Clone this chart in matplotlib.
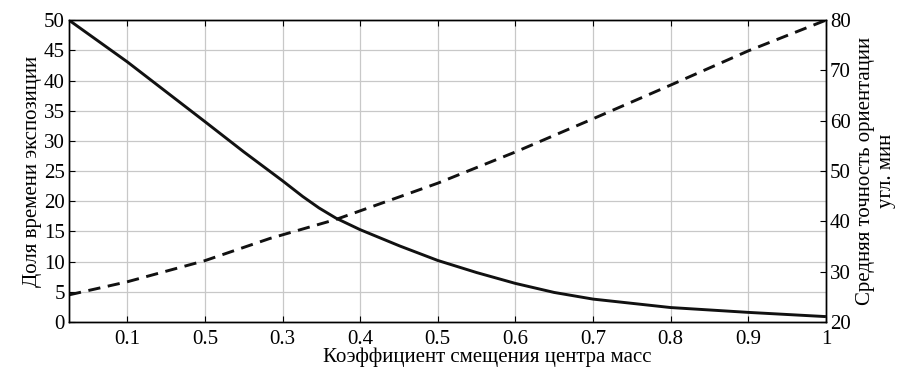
import matplotlib
matplotlib.use("Agg")
import matplotlib.pyplot as plt

# Data
x_solid = [0.025, 0.1, 0.2, 0.25, 0.3, 0.326, 0.347, 0.369, 0.4, 0.451, 0.5, 0.55, 0.6, 0.65, 0.7, 0.8, 0.9, 1.0]
y_solid = [50.0, 43.1, 33.2, 28.2, 23.4, 20.8, 18.9, 17.2, 15.3, 12.6, 10.2, 8.2, 6.4, 4.9, 3.8, 2.4, 1.6, 0.9]

x_dash = [0.025, 0.1, 0.2, 0.2835, 0.369, 0.451, 0.5, 0.6, 0.7, 0.8, 0.9, 1.0]
y_dash = [25.4, 28.0, 32.2, 36.6, 40.4, 44.9, 47.6, 53.8, 60.4, 67.1, 73.9, 80.0]

x_ticks = [0.1, 0.2, 0.3, 0.4, 0.5, 0.6, 0.7, 0.8, 0.9, 1.0]
x_tick_labels = ["0.1", "0.5", "0.3", "0.4", "0.5", "0.6", "0.7", "0.8", "0.9", "1"]
left_ticks = list(range(0, 51, 5))
right_ticks = list(range(20, 81, 10))

plt.rcParams['font.family'] = ['Liberation Serif', 'DejaVu Serif']
plt.rcParams['font.size'] = 15

fig = plt.figure(figsize=(9.13, 3.88), dpi=100)
ax = fig.add_axes([0.0756, 0.170, 0.829, 0.778])
ax.set_xlim(0.025, 1.0)
ax.set_ylim(0, 50)
ax.set_xticks(x_ticks)
ax.set_xticklabels(x_tick_labels)
ax.set_yticks(left_ticks)
ax.grid(True, color='#c8c8c8', linewidth=0.9)
ax.set_axisbelow(True)
ax.tick_params(direction='in', length=4, width=0.8, top=True, colors='black', labelsize=15)
ax.tick_params(axis='y', left=True, right=False, pad=3)
ax.tick_params(axis='x', pad=6)

ax.plot(x_solid, y_solid, color='#111111', linewidth=2.1, solid_capstyle='butt')

ax2 = ax.twinx()
ax2.set_ylim(20, 80)
ax2.set_yticks(right_ticks)
ax2.tick_params(direction='in', length=4, width=0.8, labelsize=15, pad=3)
ax2.plot(x_dash, y_dash, color='#111111', linewidth=2.1, linestyle=(0, (4.2, 2.6)))

for a in (ax, ax2):
    for s in a.spines.values():
        s.set_linewidth(1.0)
        s.set_color('black')

ax.set_xlabel("Коэффициент смещения центра масс", fontsize=15, labelpad=0)
ax.xaxis.set_label_coords(0.552, -0.085)
ax.set_ylabel("Доля времени экспозиции", fontsize=15, labelpad=1)
ax2.set_ylabel("Средняя точность ориентации\nугл. мин", fontsize=15, labelpad=4, linespacing=1.1)

fig.savefig("out.png", dpi=100)
